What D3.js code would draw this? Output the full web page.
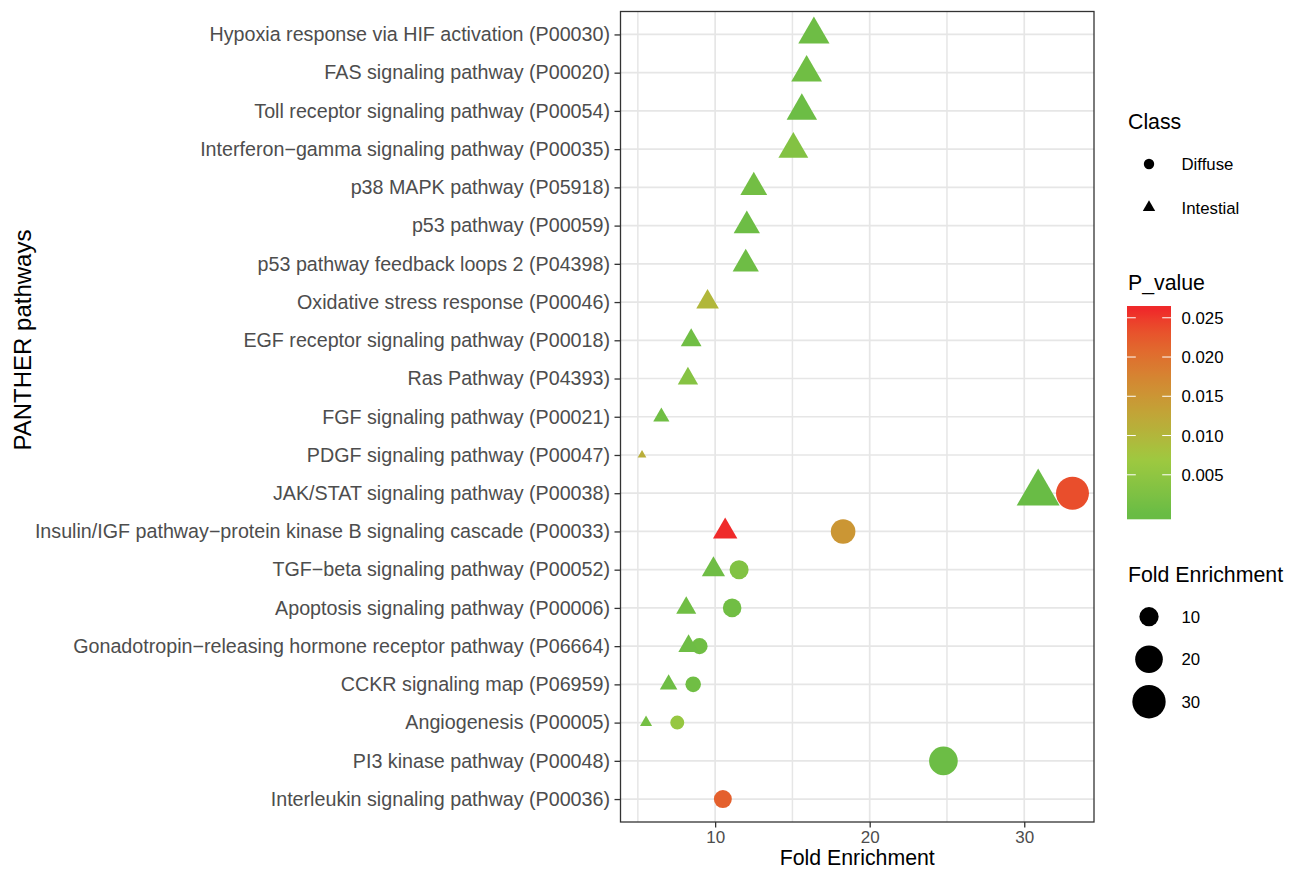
<!DOCTYPE html>
<html>
<head>
<meta charset="utf-8">
<script src="https://cdn.jsdelivr.net/npm/d3@7"></script>
<style>
    body { margin: 0; background: #ffffff; }
    svg  { display: block; font-family: "Liberation Sans", Arial, Helvetica, sans-serif; }
</style>
</head>
<body>
<svg id="pathway_plot" width="1301" height="873"></svg>
<script>
// pathways, top to bottom as they appear on the y axis
const pathways = [
    "Hypoxia response via HIF activation (P00030)",
    "FAS signaling pathway (P00020)",
    "Toll receptor signaling pathway (P00054)",
    "Interferon\u2212gamma signaling pathway (P00035)",
    "p38 MAPK pathway (P05918)",
    "p53 pathway (P00059)",
    "p53 pathway feedback loops 2 (P04398)",
    "Oxidative stress response (P00046)",
    "EGF receptor signaling pathway (P00018)",
    "Ras Pathway (P04393)",
    "FGF signaling pathway (P00021)",
    "PDGF signaling pathway (P00047)",
    "JAK/STAT signaling pathway (P00038)",
    "Insulin/IGF pathway\u2212protein kinase B signaling cascade (P00033)",
    "TGF\u2212beta signaling pathway (P00052)",
    "Apoptosis signaling pathway (P00006)",
    "Gonadotropin\u2212releasing hormone receptor pathway (P06664)",
    "CCKR signaling map (P06959)",
    "Angiogenesis (P00005)",
    "PI3 kinase pathway (P00048)",
    "Interleukin signaling pathway (P00036)"
];

// Intestial class (triangles): index into pathways, fold enrichment, p value
const intestial_rows = [0, 1, 2, 3, 4, 5, 6, 7, 8, 9, 10, 11, 12, 13, 14, 15, 16, 17, 18];
const intestial_fold = [16.39, 15.92, 15.61, 15.06, 12.50, 12.05, 11.98, 9.51, 8.45, 8.24,
                        6.52, 5.27, 30.90, 10.65, 9.89, 8.13, 8.28, 6.99, 5.53];
const intestial_p    = [0.00060, 0.00080, 0.00040, 0.00320, 0.00120, 0.00050, 0.00060, 0.00980, 0.00090, 0.00360,
                        0.00080, 0.01120, 0.00001, 0.02582, 0.00070, 0.00080, 0.00060, 0.00060, 0.00150];

// Diffuse class (circles)
const diffuse_rows = [12, 13, 14, 15, 16, 17, 18, 19, 20];
const diffuse_fold = [33.12, 18.28, 11.55, 11.10, 8.99, 8.58, 7.55, 24.77, 10.50];
const diffuse_p    = [0.02350, 0.01500, 0.00300, 0.00100, 0.00080, 0.00080, 0.00580, 0.00040, 0.02180];

const x_major_ticks = [10, 20, 30];
const x_minor_ticks = [5, 15, 25];
const p_ticks       = [0.005, 0.010, 0.015, 0.020, 0.025];
const size_ticks    = [10, 20, 30];
const class_names   = ["Diffuse", "Intestial"];

// the following code is used to build one record per point
var points = [];

diffuse_rows.forEach((row, i) =>
{
    points.push({pathway: pathways[row], fold: diffuse_fold[i], p: diffuse_p[i], cls: "Diffuse"});
});

intestial_rows.forEach((row, i) =>
{
    points.push({pathway: pathways[row], fold: intestial_fold[i], p: intestial_p[i], cls: "Intestial"});
});

var svg = d3.select("#pathway_plot");

var panel = { left   : 620.5,
              right  : 1094,
              top    : 11.5,
              bottom : 822 };

var ink      = "#333333";
var axisGrey = "#4D4D4D";
var gridGrey = "#E6E6E6";

// scales
var foldExtent = d3.extent(points, d => d.fold);
var foldPad    = (foldExtent[1] - foldExtent[0]) * 0.05;

const x = d3.scaleLinear()
    .domain([foldExtent[0] - foldPad, foldExtent[1] + foldPad])
    .range([panel.left, panel.right]);

const y = d3.scalePoint()
    .domain(pathways)
    .range([panel.top, panel.bottom])
    .padding(0.6);

var pExtent = d3.extent(points, d => d.p);

const colour = d3.scaleLinear()
    .domain([pExtent[0], 0.0068, pExtent[1]])
    .range(["#69BC45", "#9DC940", "#EF2A2A"])
    .interpolate(d3.interpolateLab)
    .clamp(true);

// fold enrichment -> point diameter (area scale: diameter grows with sqrt)
const foldUnit = d3.scaleLinear().domain(foldExtent).range([0, 1]).clamp(true);
const diameter = d3.scaleLinear().domain([0, 1]).range([6.4, 33.0]);
const pointDiameter = v => diameter(Math.sqrt(foldUnit(v)));

// grid
var grid = svg.append("g");

grid.selectAll(".minor").data(x_minor_ticks)
    .enter().append("line")
    .attr("x1", d => x(d)).attr("x2", d => x(d))
    .attr("y1", panel.top).attr("y2", panel.bottom)
    .attr("stroke", gridGrey).attr("stroke-width", 1.5);

grid.selectAll(".major_x").data(x_major_ticks)
    .enter().append("line")
    .attr("x1", d => x(d)).attr("x2", d => x(d))
    .attr("y1", panel.top).attr("y2", panel.bottom)
    .attr("stroke", gridGrey).attr("stroke-width", 1.7);

grid.selectAll(".major_y").data(pathways)
    .enter().append("line")
    .attr("x1", panel.left).attr("x2", panel.right)
    .attr("y1", d => y(d)).attr("y2", d => y(d))
    .attr("stroke", gridGrey).attr("stroke-width", 1.7);

// points
svg.append("g").selectAll("path").data(points)
    .enter().append("path")
    .attr("transform", d => `translate(${x(d.fold)},${y(d.pathway)})`)
    .attr("d", d =>
    {
        var r = pointDiameter(d.fold) / 2;
        var shape = d.cls === "Diffuse" ? d3.symbolCircle : d3.symbolTriangle;
        return d3.symbol(shape, Math.PI * r * r)();
    })
    .attr("fill", d => colour(d.p));

// panel border
svg.append("rect")
    .attr("x", panel.left).attr("y", panel.top)
    .attr("width", panel.right - panel.left)
    .attr("height", panel.bottom - panel.top)
    .attr("fill", "none").attr("stroke", ink).attr("stroke-width", 1.3);

// axes
const axisX = svg.append("g")
    .attr("transform", `translate(0,${panel.bottom})`)
    .call(d3.axisBottom(x).tickValues(x_major_ticks).tickSize(5.5).tickPadding(3));

const axisY = svg.append("g")
    .attr("transform", `translate(${panel.left},0)`)
    .call(d3.axisLeft(y).tickSize(6).tickPadding(4.5));

[axisX, axisY].forEach(a =>
{
    a.select(".domain").remove();
    a.selectAll(".tick line").attr("stroke", ink).attr("stroke-width", 1.3);
    a.selectAll(".tick text")
        .attr("fill", axisGrey)
        .style("font-family", "'Liberation Sans', Arial, Helvetica, sans-serif");
});

axisX.selectAll(".tick text").style("font-size", "17px");
axisY.selectAll(".tick text").style("font-size", "19.7px");

svg.append("text")
    .attr("x", (panel.left + panel.right) / 2)
    .attr("y", 865)
    .attr("text-anchor", "middle")
    .style("font-size", "21.3px")
    .text("Fold Enrichment");

svg.append("text")
    .attr("transform", "translate(31,340) rotate(-90)")
    .attr("text-anchor", "middle")
    .style("font-size", "24px")
    .text("PANTHER pathways");

// legend: Class
var legendX = 1128;
var keyX    = 1149;
var labelX  = 1181.5;

svg.append("text").attr("x", legendX).attr("y", 129).style("font-size", "21.3px").text("Class");

svg.append("g").selectAll("path").data(class_names)
    .enter().append("path")
    .attr("transform", (d, i) => `translate(${keyX},${164 + i * 43.5})`)
    .attr("d", d => d3.symbol(d === "Diffuse" ? d3.symbolCircle : d3.symbolTriangle,
                              d === "Diffuse" ? Math.PI * 5.2 * 5.2 : Math.PI * 4.6 * 4.6)())
    .attr("fill", "#000000");

svg.append("g").selectAll("text").data(class_names)
    .enter().append("text")
    .attr("x", labelX)
    .attr("y", (d, i) => 164 + i * 43.5 + 6)
    .style("font-size", "16.8px")
    .text(d => d);

// legend: P_value colour bar
var bar = { top: 306, bottom: 519.3, left: 1127, right: 1171 };
var halfBin = (bar.bottom - bar.top) / 40;

const barY = d3.scaleLinear()
    .domain(pExtent)
    .range([bar.bottom - halfBin, bar.top + halfBin]);

svg.append("text").attr("x", legendX).attr("y", 290).style("font-size", "21.3px").text("P_value");

var gradient = svg.append("defs").append("linearGradient")
    .attr("id", "p_gradient")
    .attr("x1", 0).attr("x2", 0).attr("y1", 1).attr("y2", 0);

d3.range(0, 1.0001, 0.02).forEach(t =>
{
    var value = barY.invert(bar.bottom - t * (bar.bottom - bar.top));
    gradient.append("stop")
        .attr("offset", t)
        .attr("stop-color", colour(value));
});

svg.append("rect")
    .attr("x", bar.left).attr("y", bar.top)
    .attr("width", bar.right - bar.left).attr("height", bar.bottom - bar.top)
    .attr("fill", "url(#p_gradient)");

var barTicks = svg.append("g").selectAll("g").data(p_ticks).enter().append("g");

barTicks.append("line")
    .attr("x1", bar.left).attr("x2", bar.left + 8.8)
    .attr("y1", d => barY(d)).attr("y2", d => barY(d))
    .attr("stroke", "#ffffff").attr("stroke-width", 1);

barTicks.append("line")
    .attr("x1", bar.right - 8.8).attr("x2", bar.right)
    .attr("y1", d => barY(d)).attr("y2", d => barY(d))
    .attr("stroke", "#ffffff").attr("stroke-width", 1);

barTicks.append("text")
    .attr("x", labelX)
    .attr("y", d => barY(d) + 6)
    .style("font-size", "16.8px")
    .text(d => d3.format(".3f")(d));

// legend: Fold Enrichment sizes
svg.append("text").attr("x", legendX).attr("y", 582).style("font-size", "21.3px").text("Fold Enrichment");

svg.append("g").selectAll("circle").data(size_ticks)
    .enter().append("circle")
    .attr("cx", keyX)
    .attr("cy", (d, i) => 616.7 + i * 42.5)
    .attr("r", d => (pointDiameter(d) + 1.9) / 2)
    .attr("fill", "#000000");

svg.append("g").selectAll("text").data(size_ticks)
    .enter().append("text")
    .attr("x", labelX)
    .attr("y", (d, i) => 616.7 + i * 42.5 + 6)
    .style("font-size", "16.8px")
    .text(d => d);
</script>
</body>
</html>
